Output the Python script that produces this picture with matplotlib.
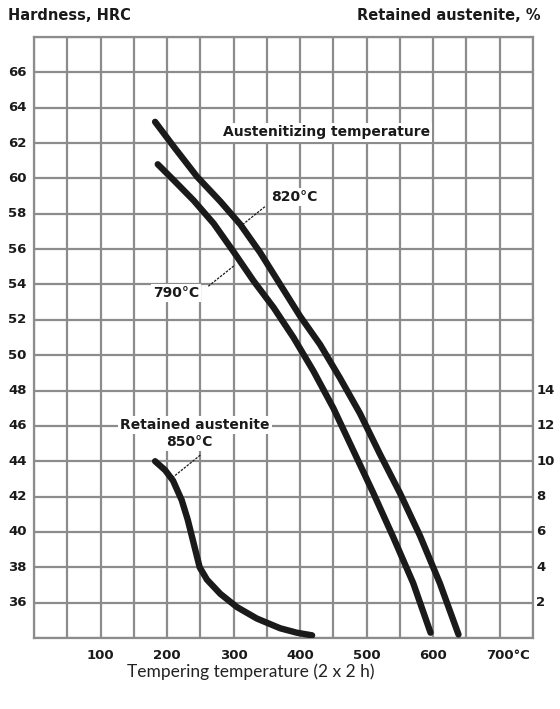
import numpy as np
import matplotlib.pyplot as plt

# Hardness curves (tempering temperature in degC, hardness in HRC)
temp_820 = [182, 210, 245, 280, 310, 340, 370, 400, 430, 460, 490, 520, 550, 580, 610, 638]
hrc_820 = [63.2, 61.8, 60.1, 58.7, 57.4, 55.8, 54.0, 52.2, 50.6, 48.7, 46.7, 44.4, 42.2, 39.8, 37.1, 34.2]

temp_790 = [186, 210, 240, 270, 300, 330, 360, 390, 420, 450, 480, 510, 540, 570, 596]
hrc_790 = [60.8, 59.9, 58.75, 57.45, 55.85, 54.2, 52.7, 51.0, 49.1, 47.0, 44.6, 42.2, 39.7, 37.1, 34.3]

# Retained austenite after 850 degC austenitizing (%)
temp_ra = [182, 197, 209, 222, 231, 239, 249, 260, 280, 305, 335, 370, 395, 418]
ra_850 = [10.0, 9.5, 8.9, 7.8, 6.7, 5.5, 4.0, 3.3, 2.5, 1.75, 1.1, 0.55, 0.3, 0.15]

hrc_ticks = [36, 38, 40, 42, 44, 46, 48, 50, 52, 54, 56, 58, 60, 62, 64, 66]
ra_ticks = [2, 4, 6, 8, 10, 12, 14]
temp_ticks = [100, 200, 300, 400, 500, 600]

fig = plt.figure(figsize=(5.6, 7.09), dpi=100)
ax = fig.add_axes([34 / 560, 1 - 638 / 709, 499 / 560, 601 / 709])
ax.set_xlim(0, 750)
ax.set_ylim(34, 68)

grid_col = '#8c8c8c'
ax.set_xticks(np.arange(0, 751, 50))
ax.set_yticks(np.arange(34, 69, 2))
ax.grid(True, color=grid_col, lw=1.6)
ax.tick_params(length=0, labelbottom=False, labelleft=False)
for s in ax.spines.values():
    s.set_color(grid_col)
    s.set_linewidth(1.6)

bold = dict(fontsize=10, fontweight='bold', color='#1a1a1a')
tick_font = dict(fontsize=9.5, fontweight='bold', color='#1a1a1a')

# tick labels
for h in hrc_ticks:
    ax.text(-39, h, str(h), ha='left', va='center', **tick_font)
for r in ra_ticks:
    ax.text(755, r + 34, str(r), ha='left', va='center', **tick_font)
for t in temp_ticks:
    ax.text(t, 33.0, str(t), ha='center', va='center', **tick_font)
ax.text(712, 33.0, '700°C', ha='center', va='center', **tick_font)

# axis titles
fig.text(8 / 560, 1 - 15 / 709, 'Hardness, HRC', ha='left', va='center',
         fontsize=10.5, fontweight='bold', color='#1a1a1a')
fig.text(541 / 560, 1 - 15 / 709, 'Retained austenite, %', ha='right', va='center',
         fontsize=10.5, fontweight='bold', color='#1a1a1a')
fig.text(251 / 560, 1 - 672 / 709, 'Tempering temperature (2 x 2 h)', ha='center', va='center',
         fontsize=12.5, family='Lato', color='#222222')

# curves
ax.plot(temp_820, hrc_820, color='#1a1a1a', lw=4.6, solid_capstyle='round', zorder=3)
ax.plot(temp_790, hrc_790, color='#1a1a1a', lw=4.6, solid_capstyle='round', zorder=3)
ax.plot(temp_ra, np.array(ra_850) + 34, color='#1a1a1a', lw=4.6, solid_capstyle='round', zorder=3)

wbox = dict(facecolor='white', edgecolor='none', pad=1.5)
leader = dict(color='#1a1a1a', lw=0.9, ls=(0, (2, 1)))

ax.text(440, 62.6, 'Austenitizing temperature', ha='center', va='center', bbox=wbox, zorder=4, **bold)

ax.text(392, 58.95, '820°C', ha='center', va='center', bbox=wbox, zorder=4, **bold)
ax.plot([347, 314], [58.4, 57.4], zorder=2.5, **leader)

ax.text(213, 53.5, '790°C', ha='center', va='center', bbox=wbox, zorder=4, **bold)
ax.plot([262, 302], [53.9, 55.1], zorder=2.5, **leader)

ax.text(242, 46.05, 'Retained austenite', ha='center', va='center', bbox=wbox, zorder=4, **bold)
ax.text(234, 45.1, '850°C', ha='center', va='center', bbox=wbox, zorder=4, **bold)
ax.plot([250, 209], [44.35, 43.1], zorder=2.5, **leader)

fig.savefig('out.png', dpi=100)
